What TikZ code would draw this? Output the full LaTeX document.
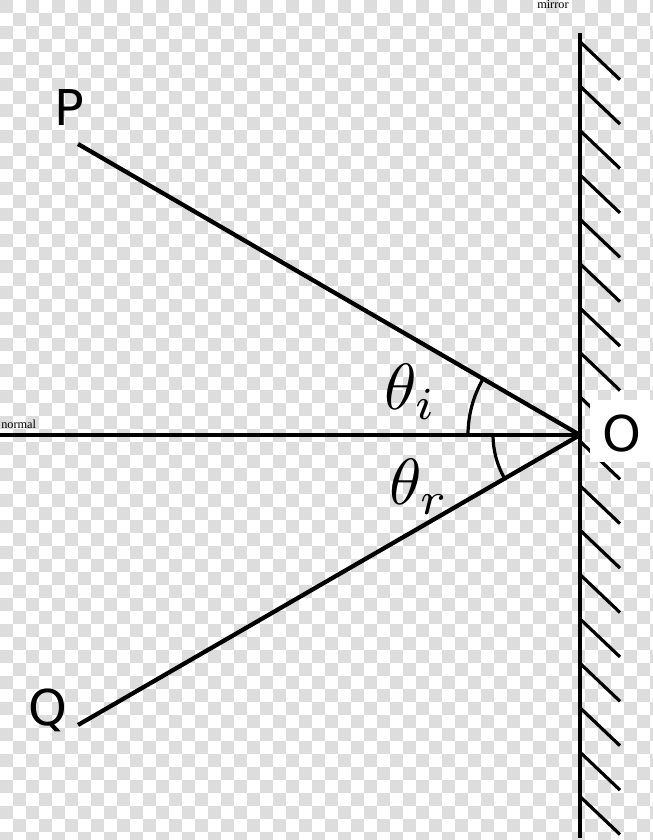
\documentclass[tikz,border=0pt]{standalone}
\usepackage{graphicx}
\usepackage{fontspec}
\newfontfamily\labfont{DejaVu Sans}
\newfontfamily\smallserif{Liberation Serif}
\definecolor{chk}{RGB}{221,221,221}
\begin{document}
\begin{tikzpicture}[x=0.75pt,y=0.75pt,
  ray/.style={line width=3.2pt},
  normalline/.style={line width=2.3pt},
  mirrorline/.style={line width=3.1pt},
  hatchline/.style={line width=2.4pt},
  anglearc/.style={line width=2.4pt},
  ptlabel/.style={font=\labfont\fontsize{37}{44}\selectfont, inner sep=0pt},
  anglelabel/.style={inner sep=0pt},
  smalllabel/.style={font=\smallserif\fontsize{9.2}{11}\selectfont, inner sep=0pt}]
\useasboundingbox (0,0) rectangle (653,840);
% checkerboard background
\begin{scope}
\clip (0,0) rectangle (653,840);
\fill[white] (0,0) rectangle (653,840);
\foreach \i in {0,2,...,50}{
  \foreach \j in {0,2,...,64}{
    \fill[chk] (13*\i,840-13*\j) rectangle ++(13,-13);
    \fill[chk] (13*\i+13,840-13*\j-13) rectangle ++(13,-13);
  }
}
\end{scope}
% key points
\coordinate (O) at (580,405);
\coordinate (P) at (78,696);
\coordinate (Q) at (78,115);
\coordinate (N) at (0,405);
\coordinate (Mtop) at (580,807);
\coordinate (Mbot) at (580,2);
% mirror
\foreach \k in {0,...,17}{
  \draw[hatchline] (580,798.3-44.4*\k) -- ++(40,-38);
}
\draw[mirrorline] (Mtop) -- (Mbot);
% O label with white box
\fill[white] (590,378) rectangle (653,440);
\node[ptlabel, anchor=base] (Olab) at (621.5,388) {O};
% rays and normal
\draw[normalline] (N) -- (O);
\draw[ray] (P) -- (O);
\draw[ray] (Q) -- (O);
% angle arcs
\draw[anglearc] ([shift={(180:84pt)}]O) arc[start angle=180, end angle=150, radius=84pt];
\draw[anglearc] ([shift={(180:65.25pt)}]O) arc[start angle=180, end angle=210, radius=65.25pt];
% labels
\node[ptlabel, anchor=base] (Plab) at (69,714) {P};
\node[ptlabel, anchor=base] (Qlab) at (47.5,114) {Q};
\node[anglelabel, anchor=base west] (ti) at (384,430) {\scalebox{4.9}{$\theta_i$}};
\node[anglelabel, anchor=base west] (tr) at (389,335) {\scalebox{4.9}{$\theta_r$}};
\node[smalllabel, anchor=base west] (nlab) at (1,411) {normal};
\node[smalllabel, anchor=base west] (mlab) at (537,831) {mirror};
\end{tikzpicture}
\end{document}
